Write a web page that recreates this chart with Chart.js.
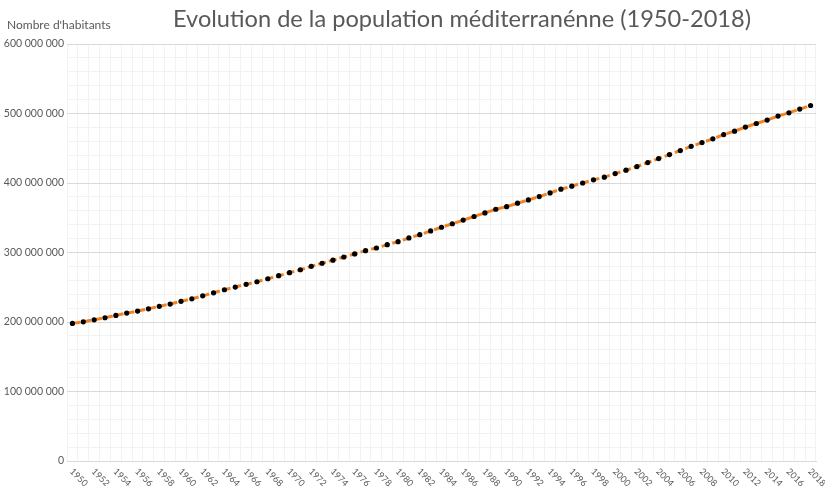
<!DOCTYPE html>
<html><head><meta charset="utf-8">
<script src="https://cdn.jsdelivr.net/npm/chart.js@4.4.1/dist/chart.umd.min.js"></script>
<style>html,body{margin:0;padding:0;background:#fff}#wrap{width:825px;height:486px;position:relative}</style>
</head><body><div id="wrap"><canvas id="c"></canvas></div>
<script>
const chartTitle = "Evolution de la population méditerranénne (1950-2018)";
const yAxisTitle = "Nombre d'habitants";
const years = ["1950","1951","1952","1953","1954","1955","1956","1957","1958","1959",
"1960","1961","1962","1963","1964","1965","1966","1967","1968","1969",
"1970","1971","1972","1973","1974","1975","1976","1977","1978","1979",
"1980","1981","1982","1983","1984","1985","1986","1987","1988","1989",
"1990","1991","1992","1993","1994","1995","1996","1997","1998","1999",
"2000","2001","2002","2003","2004","2005","2006","2007","2008","2009",
"2010","2011","2012","2013","2014","2015","2016","2017","2018"];
const population = [198000000,200300000,203200000,206100000,209500000,212800000,215700000,219000000,222500000,225800000,
229700000,233400000,237600000,242000000,246400000,250300000,254200000,257900000,262200000,266600000,
270900000,275200000,280100000,284500000,289000000,293500000,298000000,302600000,306500000,311200000,
315600000,320900000,325600000,331000000,336300000,341400000,346600000,351800000,357000000,362200000,
366000000,370900000,375600000,380400000,385700000,391100000,395500000,400000000,404500000,408400000,
413500000,418400000,423600000,429400000,435200000,440900000,446700000,452700000,458200000,463500000,
469700000,474600000,480400000,485600000,490500000,496300000,501000000,506300000,511500000];
const xTickLabels = ["1950","1952","1954","1956","1958","1960","1962","1964","1966","1968",
"1970","1972","1974","1976","1978","1980","1982","1984","1986","1988",
"1990","1992","1994","1996","1998","2000","2002","2004","2006","2008",
"2010","2012","2014","2016","2018"];
const yMajorTicks = [0,100000000,200000000,300000000,400000000,500000000,600000000];

const TXT = '#595959';
function fmt(v){ return String(v).replace(/\B(?=(\d{3})+(?!\d))/g,' '); }

const textPlugin = {
  id:'texts',
  afterDraw(chart){
    const ctx = chart.ctx, xs = chart.scales.x, area = chart.chartArea;
    ctx.save();
    ctx.fillStyle = TXT;
    ctx.font = '23.6px Lato';
    ctx.textAlign = 'center'; ctx.textBaseline = 'alphabetic';
    ctx.fillText(chartTitle, 462, 27);
    ctx.font = '12px Lato';
    ctx.textAlign = 'left';
    ctx.fillText(yAxisTitle, 7, 29);
    ctx.font = '9px Lato';
    ctx.textBaseline = 'middle';
    xTickLabels.forEach(lab => {
      const x = xs.getPixelForValue(years.indexOf(lab));
      ctx.save();
      ctx.translate(x - 1, area.bottom + 9);
      ctx.rotate(Math.PI/4);
      ctx.fillText(lab, 0, 0);
      ctx.restore();
    });
    ctx.restore();
  }
};

new Chart(document.getElementById('c'), {
  type:'line',
  data:{ labels: years, datasets:[{
    data: population,
    borderColor:'#F58220', borderWidth:3, borderDash:[8,3],
    pointRadius:2.6, pointBackgroundColor:'#000', pointBorderColor:'#000', pointBorderWidth:0,
    tension:0, fill:false
  }]},
  options:{
    responsive:true, maintainAspectRatio:false, animation:false,
    layout:{ padding:{ top:44, right:9, bottom:25, left:0 } },
    plugins:{ legend:{display:false}, tooltip:{enabled:false}, title:{display:false} },
    scales:{
      x:{
        offset:true,
        grid:{ color:'#F2F2F2', drawTicks:false, offset:true },
        border:{ display:true, color:'#D9D9D9' },
        ticks:{ display:false },
        afterFit(s){ s.height = 0; }
      },
      y:{
        min:0, max:600000000,
        afterBuildTicks(s){ const t=[]; for (let i=0;i<=30;i++) t.push({value:i*20000000}); s.ticks=t; },
        grid:{ drawTicks:false, color:(c)=> (c.tick && c.tick.value % 100000000 === 0) ? '#D9D9D9' : '#F2F2F2' },
        border:{ display:false },
        ticks:{ color:TXT, font:{family:'Lato', size:10.5}, padding:3, autoSkip:false,
          callback:(v)=> yMajorTicks.includes(v) ? fmt(v) : '' },
        afterFit(s){ s.width = 67; }
      }
    }
  },
  plugins:[textPlugin]
});
</script></body></html>
